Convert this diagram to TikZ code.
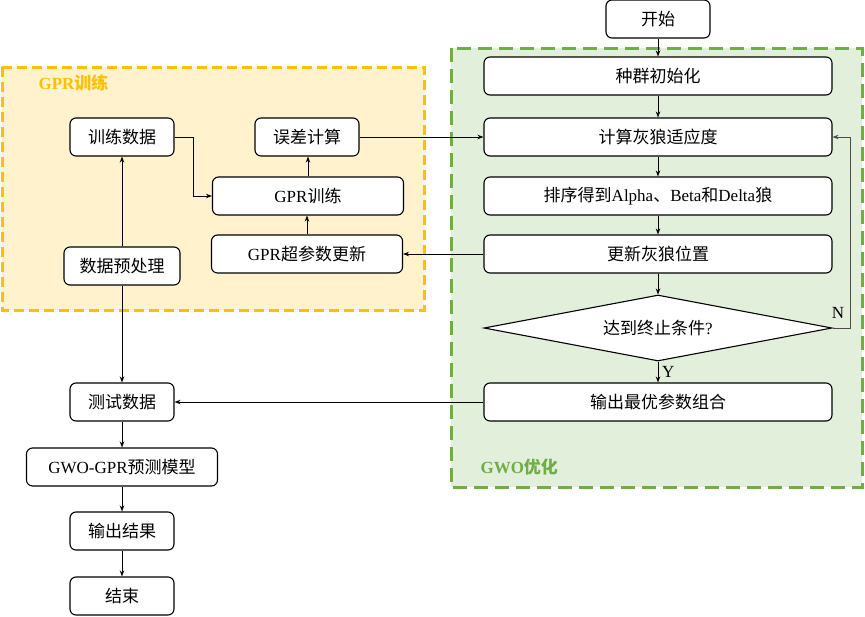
\documentclass[tikz,border=0pt]{standalone}
\usepackage{fontspec}
\setmainfont{Liberation Serif}
\newfontfamily\cjk{Noto Sans CJK SC}
\usetikzlibrary{arrows.meta,shapes.geometric}
\definecolor{gfill}{HTML}{E2EFDA}
\definecolor{gline}{HTML}{70AD47}
\definecolor{ofill}{HTML}{FFF2CC}
\definecolor{oline}{HTML}{FFC000}
\begin{document}
\begin{tikzpicture}[x=1pt,y=-1pt,
  box/.style={draw,rounded corners=6pt,fill=white,line width=1.1pt,inner sep=0pt,font=\fontsize{17}{20}\selectfont},
  dec/.style={draw,diamond,shape aspect=5.27,fill=white,line width=1.1pt,inner sep=0pt,font=\fontsize{17}{20}\selectfont},
  arr/.style={-{Stealth[length=6pt,width=4.5pt]},line width=0.9pt},
  grp/.style={line width=3pt},
  lbl/.style={font=\fontsize{17}{20}\selectfont\bfseries}]
\useasboundingbox (0,0) rectangle (865,616);
% groups
\draw[grp,fill=ofill,draw=oline,dash pattern=on 10pt off 5pt] (2,67) rectangle (424,310);
\draw[grp,fill=gfill,draw=gline,dash pattern=on 14pt off 7pt] (451,48) rectangle (862,487);
\node[lbl,text=oline,anchor=west] (lgpr) at (35,83) {GPR{\cjk 训练}};
\node[lbl,text=gline,anchor=west] (lgwo) at (477,467) {GWO{\cjk 优化}};
% right column
\node[box,minimum width=104pt,minimum height=38pt] (start) at (658,19) {\cjk 开始};
\node[box,minimum width=348pt,minimum height=38pt] (init) at (658,76) {\cjk 种群初始化};
\node[box,minimum width=348pt,minimum height=38pt] (fit) at (658,137) {\cjk 计算灰狼适应度};
\node[box,minimum width=348pt,minimum height=38pt] (sort) at (658,196) {{\cjk 排序得到}Alpha{\cjk 、}Beta{\cjk 和}Delta{\cjk 狼}};
\node[box,minimum width=348pt,minimum height=38pt] (upd) at (658,254) {\cjk 更新灰狼位置};
\node[dec,minimum width=348pt,minimum height=66pt] (dia) at (658,328) {{\cjk 达到终止条件}?};
\node[box,minimum width=348pt,minimum height=38pt] (best) at (658,402) {\cjk 输出最优参数组合};
% left
\node[box,minimum width=104pt,minimum height=38pt] (train) at (122,137) {\cjk 训练数据};
\node[box,minimum width=104pt,minimum height=38pt] (err) at (307,137) {\cjk 误差计算};
\node[box,minimum width=191pt,minimum height=38pt] (gpr) at (308,196) {GPR{\cjk 训练}};
\node[box,minimum width=191pt,minimum height=38pt] (hyp) at (307,254) {GPR{\cjk 超参数更新}};
\node[box,minimum width=116pt,minimum height=38pt] (pre) at (122,266) {\cjk 数据预处理};
\node[box,minimum width=104pt,minimum height=38pt] (test) at (122,402) {\cjk 测试数据};
\node[box,minimum width=191pt,minimum height=38pt] (model) at (122,467) {GWO-GPR{\cjk 预测模型}};
\node[box,minimum width=104pt,minimum height=38pt] (out) at (122,531) {\cjk 输出结果};
\node[box,minimum width=104pt,minimum height=38pt] (end) at (122,596) {\cjk 结束};
% connectors right column
\draw[arr] (start) -- (init);
\draw[arr] (init) -- (fit);
\draw[arr] (fit) -- (sort);
\draw[arr] (sort) -- (upd);
\draw[arr] (upd) -- (dia);
\draw[arr] (dia) -- (best);
\node[font=\fontsize{17}{20}\selectfont,anchor=west,inner sep=0pt] (ylab) at (662,372) {Y};
\coordinate (nloop) at (850,137);
\draw[arr,line width=0.7pt,draw=black!70] (dia.east) -| (nloop) -- (fit.east);
\node[font=\fontsize{17}{20}\selectfont] (nlab) at (838,313) {N};
% connectors left
\coordinate (tdc) at (193,137);
\draw[arr] (train.east) -- (tdc) |- (gpr.west);
\draw[arr] (gpr.north) -- (gpr.north |- err.south);
\draw[arr] (hyp.north) -- (hyp.north |- gpr.south);
\draw[arr] (err.east) -- (fit.west);
\draw[arr] (upd.west) -- (hyp.east);
\draw[arr] (pre) -- (train);
\draw[arr] (pre) -- (test);
\draw[arr] (best.west) -- (test.east);
\draw[arr] (test) -- (model);
\draw[arr] (model) -- (out);
\draw[arr] (out) -- (end);
\end{tikzpicture}
\end{document}
